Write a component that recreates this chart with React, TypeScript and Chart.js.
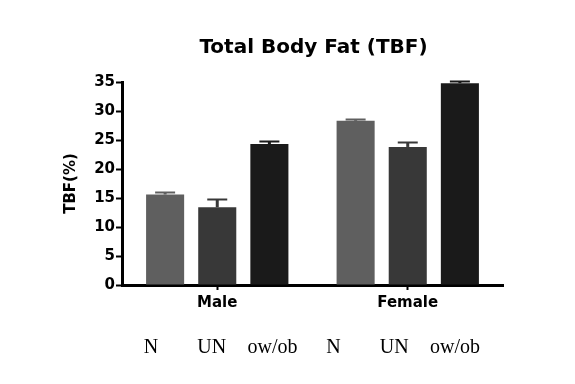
import React, { useEffect, useRef } from "react";
import { Chart, registerables } from "chart.js";

Chart.register(...registerables);

const chartTitle = "Total Body Fat (TBF)";
const groups = ["Male", "Female"];
const seriesNames = ["N", "UN", "ow/ob"];
const nValues = [15.6, 28.3];
const unValues = [13.4, 23.8];
const owValues = [24.3, 34.8];
const nErrors = [0.5, 0.3];
const unErrors = [1.4, 0.8];
const owErrors = [0.6, 0.3];
const bottomLabels = ["N", "UN", "ow/ob", "N", "UN", "ow/ob"];
const seriesColors = ["#5f5f5f", "#383838", "#1a1a1a"];
const yTicks = [0, 5, 10, 15, 20, 25, 30, 35];

const SANS = "'DejaVu Sans', Arial, sans-serif";

const errorBarPlugin = {
  id: "errorBars",
  afterDatasetsDraw(chart: any) {
    const ctx = chart.ctx;
    const yScale = chart.scales.y;
    chart.data.datasets.forEach((ds: any, di: number) => {
      const meta = chart.getDatasetMeta(di);
      meta.data.forEach((bar: any, i: number) => {
        const v = ds.data[i];
        const e = ds.errors[i];
        const top = Math.round(yScale.getPixelForValue(v + e)) + 0.5;
        ctx.save();
        ctx.strokeStyle = ds.backgroundColor;
        ctx.lineWidth = 3;
        ctx.beginPath();
        ctx.moveTo(bar.x, bar.y);
        ctx.lineTo(bar.x, top);
        ctx.stroke();
        ctx.lineWidth = 2;
        ctx.beginPath();
        ctx.moveTo(bar.x - 10, top);
        ctx.lineTo(bar.x + 10, top);
        ctx.stroke();
        ctx.restore();
      });
    });
  },
};

const textPlugin = {
  id: "extraText",
  afterDraw(chart: any) {
    const ctx = chart.ctx;
    const area = chart.chartArea;
    ctx.save();
    ctx.fillStyle = "#000";
    ctx.textAlign = "center";
    ctx.textBaseline = "alphabetic";
    ctx.font = `bold 20px ${SANS}`;
    ctx.fillText(chartTitle, (area.left + area.right) / 2 + 1, 53);
    ctx.font = '20px "Liberation Serif", "Times New Roman", serif';
    const start = area.left + 29;
    const step = 60.8;
    bottomLabels.forEach((t, i) => {
      ctx.fillText(t, start + i * step, 353);
    });
    ctx.restore();
  },
};

export default function App() {
  const ref = useRef<HTMLCanvasElement | null>(null);

  useEffect(() => {
    document.body.style.margin = "0";
    const values = [nValues, unValues, owValues];
    const errors = [nErrors, unErrors, owErrors];
    const chart = new Chart(ref.current as HTMLCanvasElement, {
      type: "bar",
      data: {
        labels: groups,
        datasets: seriesNames.map((name, i) => ({
          label: name,
          data: values[i],
          errors: errors[i],
          backgroundColor: seriesColors[i],
          borderWidth: 0,
          categoryPercentage: 0.821,
          barPercentage: 0.73,
        })) as any,
      },
      options: {
        responsive: false,
        animation: false,
        layout: { padding: { left: 0, right: 72, top: 82, bottom: 0 } },
        plugins: {
          legend: { display: false },
          tooltip: { enabled: false },
          title: { display: false },
        },
        scales: {
          x: {
            offset: true,
            grid: {
              display: true,
              drawOnChartArea: false,
              drawTicks: true,
              tickLength: 5,
              tickWidth: 2,
              tickColor: "#000",
              offset: false,
            },
            border: { display: true, color: "#000", width: 3 },
            ticks: {
              color: "#000",
              padding: 4,
              font: { family: SANS, size: 15, weight: "bold" },
            },
            afterFit(scale: any) {
              scale.height = 99;
            },
          },
          y: {
            min: 0,
            max: 35,
            afterBuildTicks(scale: any) {
              scale.ticks = yTicks.map((v) => ({ value: v }));
            },
            grid: {
              display: true,
              drawOnChartArea: false,
              drawTicks: true,
              tickLength: 6,
              tickWidth: 2,
              tickColor: "#000",
            },
            border: { display: true, color: "#000", width: 3 },
            ticks: {
              color: "#000",
              padding: 1,
              font: { family: SANS, size: 15, weight: "bold" },
            },
            title: {
              display: true,
              text: "TBF(%)",
              color: "#000",
              font: { family: SANS, size: 15, weight: "bold" },
              padding: { top: 62, bottom: 0 },
            },
            afterFit(scale: any) {
              scale.width = 122;
            },
          },
        },
      },
      plugins: [errorBarPlugin, textPlugin],
    });
    return () => chart.destroy();
  }, []);

  return (
    <div style={{ position: "absolute", left: 0, top: 0, width: 575, height: 384, background: "#fff" }}>
      <canvas ref={ref} width={575} height={384} />
    </div>
  );
}
